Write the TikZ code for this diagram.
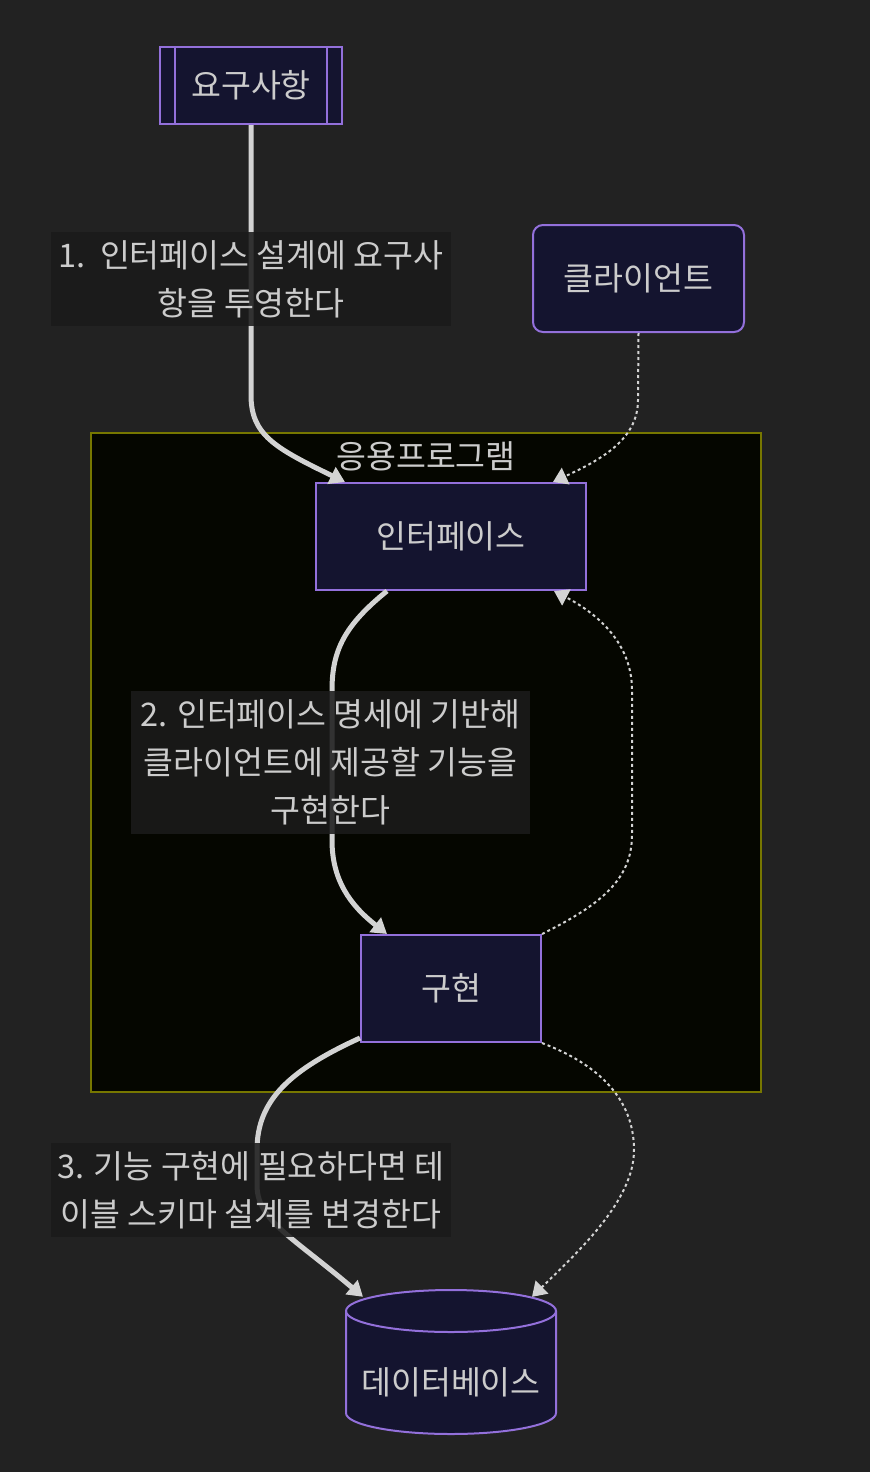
\documentclass[tikz,border=0pt]{standalone}
\usepackage{fontspec}
\setmainfont{Noto Sans CJK KR}
\usepackage{xcolor}
\usepackage{tikz}
\usetikzlibrary{arrows.meta}
\usetikzlibrary{positioning}

\definecolor{canvasbg}{HTML}{222222}
\definecolor{boxfill}{HTML}{14142F}
\definecolor{boxline}{HTML}{9370DB}
\definecolor{textgray}{HTML}{CCCCCC}
\definecolor{edgegray}{HTML}{D3D3D3}
\definecolor{groupfill}{HTML}{050600}
\definecolor{groupline}{HTML}{777700}
\definecolor{labelbg}{HTML}{1B1B1B}

\begin{document}
\begin{tikzpicture}[x=1pt, y=-1pt,
  % 노드 스타일
  box/.style={rectangle, draw=boxline, line width=2pt, fill=boxfill, text=textgray, font=\fontsize{32.5}{38}\selectfont, inner sep=0pt},
  % 그룹(서브그래프) 스타일
  group/.style={rectangle, draw=groupline, line width=2pt, fill=groupfill, inner sep=0pt},
  % 엣지 라벨 스타일: 반투명 배경
  edge_label/.style={fill=labelbg, fill opacity=0.87, text opacity=1, text=textgray, align=center, font=\fontsize{32.5}{48}\selectfont, inner sep=0pt},
  flow/.style={draw=edgegray, line width=5pt, -{Triangle[length=15pt,width=18pt]}},
  uses/.style={draw=edgegray, line width=2pt, dash pattern=on 3pt off 3pt, -{Triangle[length=14pt,width=18pt]}}
]

% 배경
\fill[canvasbg] (0,0) rectangle (870,1472);
\useasboundingbox (0,0) rectangle (870,1472);

% 응용프로그램 그룹
\node[group, minimum width=670pt, minimum height=659pt] (app) at (426,762.5) {};
\node[text=textgray, font=\fontsize{32.5}{38}\selectfont, inner sep=0pt] (apptitle) at (426,456) {응용프로그램};

% 노드
\node[box, minimum width=182pt, minimum height=77pt] (req) at (251,85.5) {요구사항};
\draw[boxline, line width=2pt] ([xshift=16pt]req.north west) -- ([xshift=16pt]req.south west);
\draw[boxline, line width=2pt] ([xshift=-16pt]req.north east) -- ([xshift=-16pt]req.south east);
\node[box, rounded corners=10pt, minimum width=211pt, minimum height=107pt] (client) at (638.5,278.5) {클라이언트};
\node[box, minimum width=270pt, minimum height=107pt] (iface) at (451,536.5) {인터페이스};
\node[box, minimum width=180pt, minimum height=107pt] (impl) at (451,988.5) {구현};

% 데이터베이스 (원통)
\filldraw[draw=boxline, line width=2pt, fill=boxfill]
  (346,1311) -- (346,1413) arc[start angle=180, end angle=0, x radius=105, y radius=21]
  -- (556,1311) arc[start angle=360, end angle=180, x radius=105, y radius=21] -- cycle;
\draw[boxline, line width=2pt] (346,1311) arc[start angle=180, end angle=0, x radius=105, y radius=21];
\node[text=textgray, font=\fontsize{32.5}{38}\selectfont, inner sep=0pt, minimum width=210pt, minimum height=144pt] (db) at (451,1382) {데이터베이스};

% 엣지
\draw[flow] (req.south) -- (251,395) .. controls (251,435) and (275,448) .. ([xshift=30pt]iface.north west);
\draw[uses] (client.south) -- (638,400) .. controls (638,440) and (600,460) .. ([xshift=-34pt]iface.north east);
\draw[flow] ([xshift=72pt]iface.south west) .. controls (345,625) and (332,650) .. (332,690)
  -- (332,840) .. controls (332,880) and (350,905) .. ([xshift=27pt]impl.north west);
\draw[uses] (impl.north east) .. controls (600,905) and (632,880) .. (632,835)
  -- (632,690) .. controls (632,645) and (600,615) .. ([xshift=-33pt]iface.south east);
\draw[flow] ([yshift=5pt]impl.south west) .. controls (290,1070) and (257,1100) .. (257,1150)
  -- (257,1185) .. controls (257,1220) and (290,1235) .. ([shift={(-88,-13)}]db.north);
\draw[uses] (impl.south east) .. controls (600,1065) and (634,1100) .. (634,1150)
  .. controls (634,1200) and (580,1250) .. ([shift={(81,-13)}]db.north);

% 엣지 라벨
\node[edge_label, minimum width=400pt, minimum height=94pt] (lbl1) at (251,279) {1.\ \ 인터페이스 설계에 요구사\\항을 투영한다};
\node[edge_label, minimum width=399pt, minimum height=143pt] (lbl2) at (330.5,762.5) {2. 인터페이스 명세에 기반해\\클라이언트에 제공할 기능을\\구현한다};
\node[edge_label, minimum width=400pt, minimum height=94pt] (lbl3) at (251,1190) {3. 기능 구현에 필요하다면 테\\이블 스키마 설계를 변경한다};

\end{tikzpicture}
\end{document}
